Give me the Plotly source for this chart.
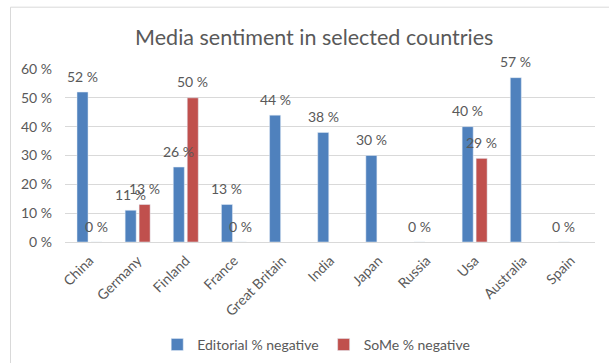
import plotly.graph_objects as go

# Share of negative coverage per country (percent)
countries = ["China", "Germany", "Finland", "France", "Great Britain", "India",
             "Japan", "Russia", "Usa", "Australia", "Spain"]
editorial_neg = [52, 11, 26, 13, 44, 38, 30, 0, 40, 57, 0]
some_neg = [0, 13, 50, 0, None, None, None, None, 29, None, None]
y_ticks = [0, 10, 20, 30, 40, 50, 60]
y_tick_text = [f"{t} %" for t in y_ticks]

BLUE = "#4F81BD"
RED = "#C0504D"
GREY_TEXT = "#595959"
FONT = "Lato"

fig = go.Figure()
fig.add_trace(go.Bar(name="Editorial % negative", x=countries, y=editorial_neg,
                     marker_color=BLUE))
fig.add_trace(go.Bar(name="SoMe % negative", x=countries, y=some_neg,
                     marker_color=RED))

# Value labels above each bar, shifted onto the bar's slot within the group
annotations = []
for values, shift in ((editorial_neg, -7), (some_neg, 7)):
    for c, v in zip(countries, values):
        if v is None:
            continue
        annotations.append(dict(x=c, y=v, xref="x", yref="y", text=f"{v:.0f} %",
                                showarrow=False, xshift=shift, yshift=16,
                                font=dict(family=FONT, size=14, color=GREY_TEXT)))

fig.update_layout(
    width=609, height=363,
    margin=dict(l=65, r=14, t=69, b=121, autoexpand=False),
    paper_bgcolor="white", plot_bgcolor="white",
    barmode="group", bargap=0.42, bargroupgap=0.21,
    title=dict(text="Media sentiment in selected countries", x=0.516, xanchor="center",
               y=0.898, yanchor="middle",
               font=dict(family=FONT, size=21.5, color=GREY_TEXT)),
    font=dict(family=FONT, size=13, color=GREY_TEXT),
    showlegend=True,
    legend=dict(orientation="h", x=0.474, xanchor="center", y=-0.595, yanchor="middle",
                font=dict(family=FONT, size=14, color=GREY_TEXT),
                itemwidth=30, traceorder="normal"),
    annotations=annotations,
    shapes=[dict(type="rect", xref="paper", yref="paper",
                 x0=(10.5 - 65) / 530, x1=1.2, y0=-1.0, y1=(242.3 - 7.5) / 173,
                 line=dict(color="#D9D9D9", width=1), layer="below")],
)
fig.update_xaxes(showline=True, linecolor="#D9D9D9", linewidth=1, ticks="",
                 tickangle=-45, automargin=False, ticklabelstandoff=4,
                 tickfont=dict(family=FONT, size=14, color=GREY_TEXT))
fig.update_yaxes(range=[0, 60], tickvals=y_ticks, ticktext=y_tick_text,
                 showgrid=True, gridcolor="#D9D9D9", gridwidth=1, zeroline=False,
                 showline=False, ticks="", automargin=False, ticklabelstandoff=12,
                 tickfont=dict(family=FONT, size=14, color=GREY_TEXT))

fig.write_html("out.html")
